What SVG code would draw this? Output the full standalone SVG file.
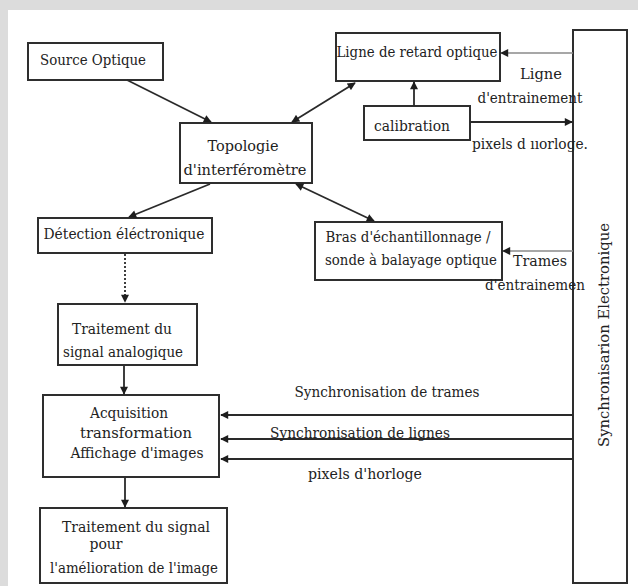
<svg xmlns="http://www.w3.org/2000/svg" width="638" height="586" viewBox="0 0 638 586">
<defs>
<style>
.box{fill:#fff;stroke:#2e2e2e;stroke-width:2}
.t{font-family:"DejaVu Serif","Liberation Serif",serif;font-size:14px;fill:#222;text-anchor:middle}
.ln{stroke:#2a2a2a;stroke-width:1.8;fill:none}
.lg{stroke:#8a8a8a;stroke-width:1.6;fill:none}
</style>
<marker id="ah" viewBox="0 0 10 10" refX="9" refY="5" markerWidth="10" markerHeight="8" markerUnits="userSpaceOnUse" orient="auto-start-reverse">
<path d="M0,0 L10,5 L0,10 z" fill="#1e1e1e"/>
</marker>
</defs>
<rect x="0" y="0" width="638" height="586" fill="#dcdcdc"/>
<rect x="8" y="10" width="630" height="576" fill="#ffffff"/>

<g id="synchronisation">
<rect class="box" x="573" y="30" width="54" height="553" style="fill:none"/>
<text class="t" transform="translate(609,335) rotate(-90)" x="0" y="0" textLength="224" lengthAdjust="spacingAndGlyphs" font-size="12.5">Synchronisarion Electronique</text>
</g>

<g id="source-optique">
<rect class="box" x="28" y="43" width="135" height="37"/>
<text class="t" x="93" y="65" textLength="106" lengthAdjust="spacingAndGlyphs">Source Optique</text>
</g>

<g id="ligne-retard">
<rect class="box" x="336" y="33" width="164" height="48"/>
<text class="t" x="417" y="57" textLength="161" lengthAdjust="spacingAndGlyphs">Ligne de retard optique</text>
</g>

<g id="calibration">
<rect class="box" x="364" y="106" width="106" height="34"/>
<text class="t" x="412" y="131" textLength="76" lengthAdjust="spacingAndGlyphs">calibration</text>
</g>

<g id="topologie">
<rect class="box" x="180" y="123" width="132" height="60"/>
<text class="t" x="243" y="151" textLength="71" lengthAdjust="spacingAndGlyphs">Topologie</text>
<text class="t" x="245" y="175" textLength="123" lengthAdjust="spacingAndGlyphs">d'interféromètre</text>
</g>

<g id="detection">
<rect class="box" x="38" y="218" width="174" height="35"/>
<text class="t" x="124" y="239" textLength="161" lengthAdjust="spacingAndGlyphs">Détection éléctronique</text>
</g>

<g id="bras">
<rect class="box" x="315" y="222" width="187" height="58"/>
<text class="t" x="408" y="242" textLength="165" lengthAdjust="spacingAndGlyphs">Bras d'échantillonnage /</text>
<text class="t" x="411" y="265" textLength="172" lengthAdjust="spacingAndGlyphs">sonde à balayage optique</text>
</g>

<g id="traitement-analogique">
<rect class="box" x="58" y="304" width="139" height="61"/>
<text class="t" x="122" y="334" textLength="100" lengthAdjust="spacingAndGlyphs">Traitement du</text>
<text class="t" x="123" y="357" textLength="120" lengthAdjust="spacingAndGlyphs">signal analogique</text>
</g>

<g id="acquisition">
<rect class="box" x="43" y="395" width="176" height="82"/>
<text class="t" x="129" y="418" textLength="78" lengthAdjust="spacingAndGlyphs">Acquisition</text>
<text class="t" x="136" y="438" textLength="112" lengthAdjust="spacingAndGlyphs">transformation</text>
<text class="t" x="137" y="458" textLength="133" lengthAdjust="spacingAndGlyphs">Affichage d'images</text>
</g>

<g id="traitement-image">
<rect class="box" x="40" y="508" width="187" height="75"/>
<text class="t" x="136" y="532" textLength="148" lengthAdjust="spacingAndGlyphs">Traitement du signal</text>
<text class="t" x="106" y="549" font-size="11">pour</text>
<text class="t" x="134" y="573" textLength="168" lengthAdjust="spacingAndGlyphs">l'amélioration de l'image</text>
</g>

<g id="connectors">
<line class="ln" x1="127" y1="80" x2="211" y2="122" marker-end="url(#ah)"/>
<line class="ln" x1="292" y1="122" x2="355" y2="83" marker-start="url(#ah)" marker-end="url(#ah)"/>
<line class="ln" x1="414" y1="106" x2="414" y2="82" marker-end="url(#ah)"/>
<line class="lg" x1="573" y1="53" x2="501" y2="53" marker-end="url(#ah)"/>
<line class="ln" x1="470" y1="122" x2="572" y2="122" marker-end="url(#ah)"/>
<line class="ln" x1="210" y1="184" x2="129" y2="217" marker-end="url(#ah)"/>
<line class="ln" x1="296" y1="184" x2="374" y2="221" marker-start="url(#ah)" marker-end="url(#ah)"/>
<line class="lg" x1="573" y1="251" x2="503" y2="251" marker-end="url(#ah)"/>
<line class="ln" x1="125" y1="254" x2="125" y2="302" stroke-dasharray="2,2" marker-end="url(#ah)"/>
<line class="ln" x1="124" y1="366" x2="124" y2="394" marker-end="url(#ah)"/>
<line class="ln" x1="125" y1="478" x2="125" y2="507" marker-end="url(#ah)"/>
<line class="ln" x1="573" y1="415" x2="221" y2="415" marker-end="url(#ah)"/>
<line class="ln" x1="573" y1="439" x2="221" y2="439" marker-end="url(#ah)"/>
<line class="ln" x1="573" y1="459" x2="221" y2="459" marker-end="url(#ah)"/>
<text class="t" x="541" y="79" textLength="42" lengthAdjust="spacingAndGlyphs">Ligne</text>
<text class="t" x="530" y="103" textLength="105" lengthAdjust="spacingAndGlyphs">d'entrainement</text>
<text class="t" x="530" y="149" textLength="116" lengthAdjust="spacingAndGlyphs">pixels d ııorloge.</text>
<text class="t" x="540" y="266" textLength="54" lengthAdjust="spacingAndGlyphs">Trames</text>
<text class="t" x="535" y="290" textLength="100" lengthAdjust="spacingAndGlyphs">d'entrainemen</text>
<text class="t" x="387" y="397" textLength="185" lengthAdjust="spacingAndGlyphs">Synchronisation de trames</text>
<text class="t" x="360" y="438" textLength="180" lengthAdjust="spacingAndGlyphs">Synchronisation de lignes</text>
<text class="t" x="365" y="479" textLength="114" lengthAdjust="spacingAndGlyphs">pixels d'horloge</text>
</g>
</svg>
